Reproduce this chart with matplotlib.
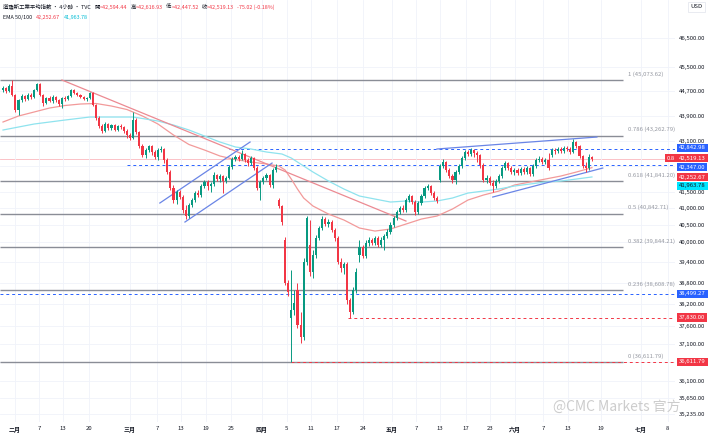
import matplotlib
matplotlib.use('Agg')
import matplotlib.pyplot as plt
from matplotlib.ticker import NullLocator

plt.rcParams['font.family'] = ['Noto Sans CJK TC', 'DejaVu Sans']

# 4h candles, Dow Jones (TVC), late Jan -> mid June
opens = [44742, 44808, 44709, 44875, 44578, 44087, 44414, 44545, 44447, 44578,
         44512, 44742, 44941, 44578, 44316, 44480, 44381, 44512, 44414, 44283,
         44480, 44447, 44545, 44742, 44644, 44578, 44512, 44447, 44480, 44644,
         44250, 43828, 43570, 43410, 43634, 43506, 43602, 43442, 43570, 43538,
         43410, 43282, 43187, 43763, 43378, 42932, 42648, 42806, 42932, 42743,
         42585, 42806, 42838, 42491, 42117, 41623, 41256, 41500, 41347, 40953,
         40772, 41104, 41256, 41469, 41408, 41684, 41807, 41684, 41746, 42024,
         41900, 41993, 41838, 41931, 42273, 42522, 42585, 42522, 42680, 42491,
         42397, 42554, 42241, 41623, 41807, 41931, 42024, 41715, 42179, 41256,
         41074, 40057, 38806, 37817, 38041, 38606, 37622, 37291, 39412, 39909,
         39122, 39616, 40116, 40413, 40682, 40532, 40592, 40353, 40116, 39412,
         39238, 39354, 38323, 37985, 38606, 39616, 39850, 39587, 39968, 40057,
         39968, 40116, 39909, 40057, 40175, 40293, 40502, 40712, 40893, 41013,
         40953, 41256, 41378, 41195, 40893, 41165, 41378, 41623, 41684, 41469,
         41317, 41869, 42304, 42429, 42179, 41993, 41869, 42117, 42304, 42554,
         42743, 42680, 42806, 42711, 42648, 42335, 41869, 41931, 41777, 41684,
         41838, 41993, 42241, 42397, 42241, 42117, 42179, 42086, 42210, 42117,
         42241, 42055, 42304, 42491, 42522, 42429, 42491, 42648, 42806, 42774,
         42838, 42774, 42869, 42838, 42743, 43059, 42932, 42617, 42304, 42241,
         42594.44]
closes = [44808, 44709, 44875, 44578, 44087, 44414, 44545, 44447, 44578, 44512,
          44742, 44941, 44578, 44316, 44480, 44381, 44512, 44414, 44283, 44480,
          44447, 44545, 44742, 44644, 44578, 44512, 44447, 44480, 44644, 44250,
          43828, 43570, 43410, 43634, 43506, 43602, 43442, 43570, 43538, 43410,
          43282, 43187, 43763, 43378, 42932, 42648, 42806, 42932, 42743, 42585,
          42806, 42838, 42491, 42117, 41623, 41256, 41500, 41347, 40953, 40772,
          41104, 41256, 41469, 41408, 41684, 41807, 41684, 41746, 42024, 41900,
          41993, 41838, 41931, 42273, 42522, 42585, 42522, 42680, 42491, 42397,
          42554, 42241, 41623, 41807, 41931, 42024, 41715, 42179, 42273, 41074,
          40592, 38806, 38549, 38041, 38238, 37622, 37291, 39412, 40712, 39122,
          39616, 40116, 40413, 40682, 40532, 40592, 40353, 40116, 39412, 39238,
          39354, 38323, 37985, 38606, 39122, 39850, 39587, 39968, 40057, 39968,
          40116, 39909, 40057, 40175, 40293, 40502, 40712, 40893, 41013, 40953,
          41256, 41378, 41195, 40893, 41165, 41378, 41623, 41684, 41469, 41317,
          41226, 42304, 42429, 42179, 41993, 41869, 42117, 42304, 42554, 42743,
          42680, 42806, 42711, 42648, 42335, 41869, 41931, 41777, 41684, 41838,
          41993, 42241, 42397, 42241, 42117, 42179, 42086, 42210, 42117, 42241,
          42055, 42304, 42491, 42522, 42429, 42491, 42241, 42806, 42774, 42838,
          42774, 42869, 42838, 42743, 43059, 42932, 42617, 42304, 42241, 42594,
          42519.13]
highs = [44875, 44842, 44941, 45074, 44611, 44447, 44611, 44578, 44644, 44644,
         44775, 44974, 44974, 44611, 44512, 44545, 44578, 44545, 44447, 44512,
         44545, 44578, 44775, 44775, 44676, 44611, 44545, 44512, 44676, 44676,
         44283, 43893, 43634, 43699, 43666, 43634, 43634, 43602, 43634, 43570,
         43474, 43346, 44022, 43828, 43410, 42996, 42869, 42964, 42964, 42806,
         42869, 42932, 42869, 42554, 42179, 41715, 41561, 41561, 41408, 41104,
         41165, 41317, 41530, 41561, 41746, 41869, 41869, 41807, 42117, 42055,
         42055, 42024, 41993, 42335, 42585, 42648, 42648, 42806, 42711, 42554,
         42617, 42585, 42304, 41869, 41993, 42086, 42055, 42241, 42366, 41317,
         41104, 40145, 38892, 39180, 38606, 38806, 37985, 39528, 40772, 40652,
         39762, 40204, 40472, 40772, 40742, 40682, 40652, 40413, 40175, 39528,
         39412, 39412, 38379, 38692, 39238, 40057, 39909, 40057, 40145, 40116,
         40175, 40175, 40145, 40234, 40383, 40592, 40772, 40953, 41074, 41104,
         41317, 41439, 41408, 41256, 41226, 41439, 41684, 41746, 41715, 41530,
         41378, 42366, 42522, 42460, 42241, 42055, 42179, 42366, 42617, 42806,
         42806, 42869, 42838, 42774, 42680, 42397, 42024, 41993, 41869, 41900,
         42055, 42304, 42460, 42429, 42304, 42241, 42241, 42273, 42273, 42304,
         42273, 42366, 42554, 42617, 42585, 42554, 42711, 42869, 42869, 42901,
         42901, 42932, 42932, 42901, 43155, 43091, 42964, 42648, 42429, 42680,
         42616.93]
lows = [44676, 44644, 44676, 44545, 44022, 43925, 44348, 44381, 44414, 44447,
        44480, 44709, 44545, 44217, 44283, 44348, 44316, 44348, 44217, 44152,
        44381, 44414, 44512, 44611, 44545, 44480, 44414, 44381, 44447, 44217,
        43763, 43506, 43346, 43378, 43442, 43442, 43410, 43410, 43474, 43346,
        43187, 43123, 43155, 43314, 42869, 42585, 42554, 42743, 42648, 42522,
        42491, 42743, 42397, 42055, 41561, 41165, 41134, 41286, 40862, 40682,
        40712, 41044, 41195, 41347, 41347, 41623, 41561, 41500, 41684, 41838,
        41807, 41469, 41777, 41900, 42210, 42460, 42460, 42491, 42429, 42304,
        42335, 42179, 41561, 41256, 41746, 41869, 41653, 41623, 42117, 41013,
        40502, 38749, 38436, 36612, 37901, 37539, 37126, 37208, 39325, 39007,
        38950, 39528, 40057, 40353, 40472, 40442, 40293, 40027, 39354, 39122,
        39065, 38210, 37817, 37929, 38521, 39412, 39528, 39528, 39880, 39909,
        39909, 39850, 39850, 39762, 40116, 40234, 40442, 40652, 40832, 40893,
        40893, 41195, 41134, 40802, 40832, 41104, 41317, 41561, 41408, 41256,
        41165, 41807, 42241, 42117, 41931, 41777, 41746, 42055, 42241, 42491,
        42617, 42617, 42585, 42429, 42241, 41807, 41777, 41715, 41500, 41623,
        41777, 41931, 42179, 42179, 42055, 42024, 42024, 42024, 42055, 42055,
        41993, 41993, 42241, 42429, 42366, 42366, 42179, 42585, 42680, 42711,
        42711, 42711, 42774, 42680, 42711, 42869, 42554, 42241, 42117, 42179,
        42447.52]

# EMA 50 / 100 (bar index, value)
ema50_idx = [0, 5, 10, 15, 20, 25, 30, 35, 40, 45, 50, 55, 60, 65, 70, 75, 80, 85, 89, 91,
             93, 95, 97, 100, 105, 110, 115, 120, 125, 130, 135, 140, 145, 150, 155, 160,
             165, 170, 175, 180, 185, 190]
ema50 = [43699, 43893, 44022, 44152, 44234, 44283, 44300, 44217, 44103, 43893, 43634,
         43282, 42980, 42806, 42617, 42506, 42429, 42366, 42304, 42179, 41900, 41592,
         41317, 41074, 40832, 40652, 40413, 40323, 40383, 40532, 40682, 40772, 40983,
         41256, 41408, 41530, 41715, 41807, 41900, 41993, 42117, 42252.67]
ema100_idx = [0, 10, 20, 28, 35, 42, 50, 55, 60, 65, 70, 75, 80, 85, 90, 93, 96, 100, 105,
              110, 115, 120, 125, 130, 135, 140, 145, 150, 155, 160, 165, 170, 175, 180,
              185, 190]
ema100 = [43442, 43634, 43763, 43860, 43860, 43860, 43731, 43602, 43442, 43250, 43059,
          42901, 42838, 42743, 42680, 42554, 42366, 42117, 41838, 41592, 41378, 41286,
          41195, 41226, 41195, 41226, 41317, 41469, 41530, 41592, 41684, 41746, 41807,
          41838, 41900, 41963.78]

# fibonacci retracement
fib_ratios = ['1', '0.786', '0.618', '0.5', '0.382', '0.236', '0']
fib_prices = [45073.62, 43262.79, 41841.20, 40842.71, 39844.21, 38608.78, 36611.79]

# drawn trend lines: (x0, p0, x1, p1)
down_line = (19, 45074, 130, 40622)
chan_upper = (50.6, 41165, 79.7, 43059)
chan_lower = (58.7, 40592, 86.8, 42397)
wedge_upper = (140, 42838, 191.6, 43218)
wedge_lower = (158, 41347, 193.5, 42241)

# x axis
xtick_pos = [3.9, 11.6, 19.4, 27.7, 41.0, 49.7, 57.4, 65.5, 73.5, 83.5, 91.6, 99.4, 107.7,
             116.1, 125.5, 133.2, 141.0, 149.4, 157.1, 165.2, 174.2, 182.3, 192.9, 205.8, 214.5]
xtick_lab = ['二月', '7', '13', '20', '三月', '7', '13', '19', '25', '四月', '5', '11', '17',
             '24', '五月', '7', '13', '17', '23', '六月', '7', '13', '19', '七月', '8']
# y axis
ytick_vals = [46500, 45500, 44700, 43900, 43100, 42300, 41500, 41000, 40500, 40000, 39400,
              38800, 38200, 37600, 37100, 36600, 36100, 35650, 35235]

GREEN = '#089981'
RED = '#f23645'
BLUE = '#2962ff'
DARK = '#131722'

W, H = 710, 437
fig = plt.figure(figsize=(W / 100, H / 100), dpi=100)
ax = fig.add_axes([0, 15 / H, 675 / W, 422 / H])
ax.set_yscale('log')
ax.set_ylim(35027, 47813)
ax.set_xlim(-0.97, 216.8)

# candles
xs = list(range(len(closes)))
cols = [GREEN if c >= o else RED for o, c in zip(opens, closes)]
ax.vlines(xs, lows, highs, colors=cols, lw=0.7, zorder=4)
bots = [min(o, c) for o, c in zip(opens, closes)]
hts = [max(abs(c - o), 10) for o, c in zip(opens, closes)]
ax.bar(xs, hts, bottom=bots, width=0.68, color=cols, lw=0, zorder=5)

# EMAs
ax.plot(ema50_idx, ema50, color='#f29a9a', lw=0.9, zorder=3)
ax.plot(ema100_idx, ema100, color='#8fe3ee', lw=0.9, zorder=3)

# fib lines + labels
ax.hlines(fib_prices, -1, 200, color='#8a8d96', lw=1.0, zorder=2)
for r, p in zip(fib_ratios, fib_prices):
    ax.annotate('%s (%s)' % (r, format(p, ',.2f')), xy=(201.6, p), xytext=(0, 6),
                textcoords='offset pixels', fontsize=4.3, color='#9598a1', va='center')

# trend lines
for ln, c in [(down_line, '#ec8a92'), (chan_upper, '#6a85e6'), (chan_lower, '#6a85e6'),
              (wedge_upper, '#6a85e6'), (wedge_lower, '#6a85e6')]:
    ax.plot([ln[0], ln[2]], [ln[1], ln[3]], color=c, lw=0.9, zorder=3)

# horizontal levels
dash = (0, (3, 3))
ax.axhline(42519.13, color=RED, lw=0.6, alpha=0.35, zorder=1)
ax.hlines(42842.98, 73, 217, color=BLUE, lw=0.7, linestyles=dash, zorder=2)
ax.hlines(42347.00, 40, 217, color=BLUE, lw=0.7, linestyles=dash, zorder=2)
ax.hlines(38499.27, -1, 217, color=BLUE, lw=0.7, linestyles=dash, zorder=2)
ax.hlines(37830.00, 111.3, 217, color=RED, lw=0.7, linestyles=dash, zorder=2)
ax.hlines(36611.79, 93, 217, color=RED, lw=0.7, linestyles=dash, zorder=2)

# axes look
for s in ax.spines.values():
    s.set_visible(False)
ax.yaxis.tick_right()
ax.yaxis.set_minor_locator(NullLocator())
ax.set_yticks(ytick_vals)
ax.set_yticklabels([format(v, ',.2f') for v in ytick_vals])
ax.set_xticks(xtick_pos)
ax.set_xticklabels(xtick_lab)
ax.tick_params(axis='y', length=0, pad=3, labelsize=4.3, labelcolor=DARK)
ax.tick_params(axis='x', length=0, pad=3, labelsize=4.3, labelcolor=DARK)
for t in ax.get_xticklabels():
    if '月' in t.get_text():
        t.set_fontweight('bold')
ax.grid(True, color='#f0f3fa', lw=0.6, zorder=0)

# price tags on the right scale
tag_vals = [42842.98, 42519.13, 42347.00, 42252.67, 41963.78, 38499.27, 37830.00, 36611.79]
tag_cols = [BLUE, RED, BLUE, RED, '#00e5ff', BLUE, RED, RED]
tag_txt = ['white', 'white', 'white', 'white', DARK, 'white', 'white', 'white']
tag_dy = [1, 1, -2.5, -9.5, -9, 0, 0, 0]
for v, c, tc, dy in zip(tag_vals, tag_cols, tag_txt, tag_dy):
    ax.annotate(format(v, ',.2f'), xy=(1.0, v), xycoords=('axes fraction', 'data'),
                xytext=(4, dy), textcoords='offset pixels', fontsize=4.3, color=tc,
                va='center', ha='left', annotation_clip=False, zorder=10,
                bbox=dict(boxstyle='square,pad=0.3', fc=c, ec='none'))
ax.annotate('0.8', xy=(1.0, 42519.13), xycoords=('axes fraction', 'data'),
            xytext=(0, 1), textcoords='offset pixels', fontsize=4.3, color='white',
            va='center', ha='right', annotation_clip=False, zorder=10,
            bbox=dict(boxstyle='square,pad=0.3', fc=RED, ec='none'))


def ptext(x, y, s, **kw):
    return fig.text(x / W, 1 - y / H, s, va='center', ha='left', **kw)


renderer = fig.canvas.get_renderer()


def chain(x, y, parts, fs):
    # lay text pieces one after another, measuring each
    for s, c, gap in parts:
        t = ptext(x, y, s, fontsize=fs, color=c)
        x += t.get_window_extent(renderer).width + gap


ptext(690, 7, 'USD', fontsize=4.3, color=DARK,
      bbox=dict(boxstyle='square,pad=0.4', fc='white', ec='#e0e3eb', lw=0.5))

# legend header
chain(3, 7, [('道瓊斯工業平均指數 · 4小時 · TVC', DARK, 4),
             ('開', DARK, 0), ('=42,594.44', RED, 3),
             ('高', DARK, 0), ('=42,616.93', RED, 3),
             ('低', DARK, 0), ('=42,447.52', RED, 3),
             ('收', DARK, 0), ('=42,519.13', RED, 3),
             ('-75.02 (-0.18%)', RED, 0)], 3.9)
chain(3, 18, [('EMA 50/100', DARK, 4), ('42,252.67', RED, 4),
              ('41,963.78', '#00bcd4', 0)], 3.9)

# watermark
ptext(553, 407, '@CMC Markets 官方', fontsize=10, color='#c4c4c4', alpha=0.85)

fig.savefig('out.png', dpi=100)
